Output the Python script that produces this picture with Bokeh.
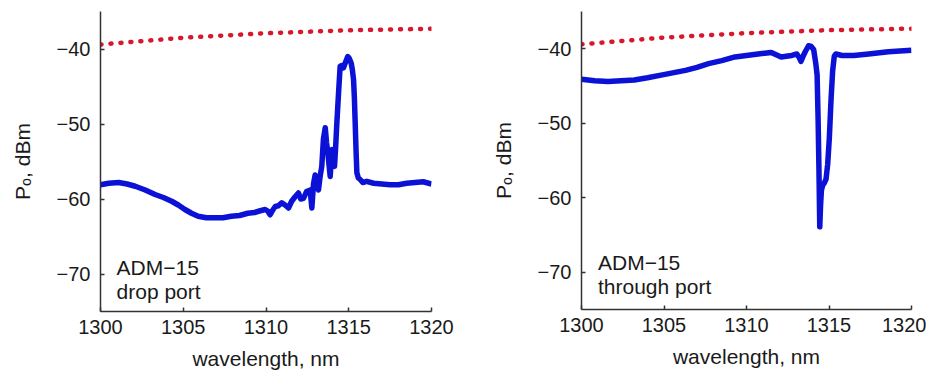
from bokeh.plotting import figure
from bokeh.layouts import row
from bokeh.models import Range1d, FixedTicker, Label
from bokeh.embed import file_html
from bokeh.resources import INLINE

# ---- data ----
x_ticks = [1300, 1305, 1310, 1315, 1320]
y_ticks = [-70, -60, -50, -40]
y_tick_labels = ["\u221270", "\u221260", "\u221250", "\u221240"]

ref_wl = [1300, 1305, 1310, 1315, 1320]
ref_p = [-39.4, -38.5, -37.9, -37.5, -37.3]

drop_wl = [1300.0, 1300.5, 1301.1, 1301.6, 1302.1, 1302.7, 1303.3, 1303.8, 1304.3, 1304.7,
           1305.1, 1305.5, 1305.9, 1306.4, 1306.9, 1307.4, 1307.9, 1308.4, 1308.9, 1309.3,
           1309.6, 1309.95, 1310.1, 1310.25, 1310.4, 1310.56, 1310.75, 1310.95, 1311.15, 1311.36,
           1311.55, 1311.76, 1311.96, 1312.1, 1312.27, 1312.45, 1312.67, 1312.77, 1312.87, 1312.97,
           1313.07, 1313.17, 1313.27, 1313.37, 1313.47, 1313.58, 1313.66, 1313.74, 1313.81, 1313.88,
           1313.98, 1314.06, 1314.14, 1314.21, 1314.28, 1314.38, 1314.48, 1314.58, 1314.68, 1314.8,
           1314.94, 1315.04, 1315.15, 1315.22, 1315.29, 1315.34, 1315.39, 1315.44, 1315.49, 1315.58,
           1315.69, 1315.85, 1316.09, 1316.5, 1317.0, 1317.5, 1318.0, 1318.5, 1319.0, 1319.5, 1320.0]
drop_p = [-58.1, -57.9, -57.8, -58.0, -58.3, -58.8, -59.4, -59.8, -60.3, -60.8,
          -61.4, -61.9, -62.3, -62.5, -62.5, -62.5, -62.3, -62.2, -61.9, -61.8,
          -61.6, -61.4, -61.6, -62.1, -61.5, -61.0, -60.9, -60.5, -60.8, -61.2,
          -60.3, -59.7, -59.2, -60.0, -59.9, -59.0, -58.8, -61.2, -58.0, -56.8,
          -57.6, -58.8, -57.0, -55.65, -52.0, -50.5, -52.5, -53.9, -55.5, -57.0,
          -53.4, -54.5, -55.65, -53.0, -49.9, -46.0, -42.3, -42.2, -42.5, -41.8,
          -41.0, -41.3, -41.9, -42.8, -44.1, -46.5, -49.9, -53.5, -56.5, -57.2,
          -57.4, -57.8, -57.65, -57.9, -58.0, -58.1, -58.1, -57.9, -57.8, -57.7, -58.0]

thru_wl = [1300.0, 1300.8, 1301.6, 1302.4, 1303.2, 1304.0, 1304.9, 1305.6, 1306.3, 1307.0,
           1307.7, 1308.5, 1309.3, 1310.0, 1310.7, 1311.1, 1311.5, 1311.8, 1312.1, 1312.4,
           1312.75, 1313.05, 1313.2, 1313.3, 1313.45, 1313.56, 1313.76, 1313.92, 1314.07, 1314.2,
           1314.28, 1314.34, 1314.39, 1314.44, 1314.49, 1314.54, 1314.62, 1314.72, 1314.82, 1314.92,
           1315.02, 1315.12, 1315.22, 1315.32, 1315.42, 1315.79, 1316.5, 1317.4, 1318.6, 1320.0]
thru_p = [-44.1, -44.3, -44.4, -44.3, -44.2, -43.9, -43.5, -43.2, -42.9, -42.5,
          -42.0, -41.6, -41.1, -40.9, -40.7, -40.6, -40.5, -40.8, -41.1, -41.0,
          -40.9, -40.7, -41.2, -41.7, -40.9, -40.4, -39.6, -39.7, -40.1, -42.0,
          -43.5, -49.5, -56.0, -63.9, -61.0, -59.0, -58.3, -58.0, -57.5, -55.5,
          -52.0, -47.0, -43.0, -41.0, -40.7, -40.9, -40.9, -40.7, -40.4, -40.2]

FONT = "Liberation Sans"
BLUE = "#0b12d6"
RED = "#d8172c"


def make_panel(wl, p, line1, line2, width, border_left, border_right, border_top, height,
               text_x, text_y1, text_y2):
    fig = figure(width=width, height=height, output_backend="svg", toolbar_location=None,
                 x_range=Range1d(1300, 1320), y_range=Range1d(-75, -35),
                 min_border_left=border_left, min_border_right=border_right,
                 min_border_top=border_top, min_border_bottom=62)
    fig.outline_line_color = None
    fig.grid.visible = False
    fig.background_fill_color = "white"
    fig.border_fill_color = "white"

    fig.line(ref_wl, ref_p, line_color=RED, line_width=4.5, line_dash="1 9", line_cap="round")
    fig.line(wl, p, line_color=BLUE, line_width=5.5, line_join="round")

    for ax in (fig.xaxis[0], fig.yaxis[0]):
        ax.axis_line_color = "#333333"
        ax.axis_line_width = 1.5
        ax.major_tick_line_color = "#333333"
        ax.major_tick_line_width = 1.5
        ax.major_tick_in = 4
        ax.major_tick_out = 0
        ax.minor_tick_line_color = None
        ax.major_label_text_font = FONT
        ax.major_label_text_font_size = "20px"
        ax.major_label_text_color = "#1a1a1a"
        ax.axis_label_text_font = FONT
        ax.axis_label_text_font_size = "21px"
        ax.axis_label_text_font_style = "normal"
        ax.axis_label_text_color = "#1a1a1a"

    fig.xaxis[0].ticker = FixedTicker(ticks=x_ticks)
    fig.xaxis[0].axis_label = "wavelength, nm"
    fig.xaxis[0].major_label_standoff = 8
    fig.xaxis[0].axis_label_standoff = 10

    fig.yaxis[0].ticker = FixedTicker(ticks=y_ticks)
    fig.yaxis[0].major_label_overrides = {t: s for t, s in zip(y_ticks, y_tick_labels)}
    fig.yaxis[0].axis_label = "P\u2092, dBm"
    fig.yaxis[0].major_label_standoff = 10
    fig.yaxis[0].axis_label_standoff = 20

    for ty, txt in ((text_y1, line1), (text_y2, line2)):
        fig.add_layout(Label(x=text_x, y=ty, text=txt, text_font=FONT, text_font_size="21px",
                             text_color="#1a1a1a", text_baseline="alphabetic"))
    return fig


p1 = make_panel(drop_wl, drop_p, "ADM\u221215", "drop port", width=466,
                border_left=100, border_right=35, border_top=11, height=373,
                text_x=1300.97, text_y1=-69.16, text_y2=-72.35)
p2 = make_panel(thru_wl, thru_p, "ADM\u221215", "through port", width=460,
                border_left=115, border_right=15, border_top=8, height=371,
                text_x=1301.0, text_y1=-68.7, text_y2=-71.9)

layout = row(p1, p2)
open("out.html", "w").write(file_html(layout, INLINE))
